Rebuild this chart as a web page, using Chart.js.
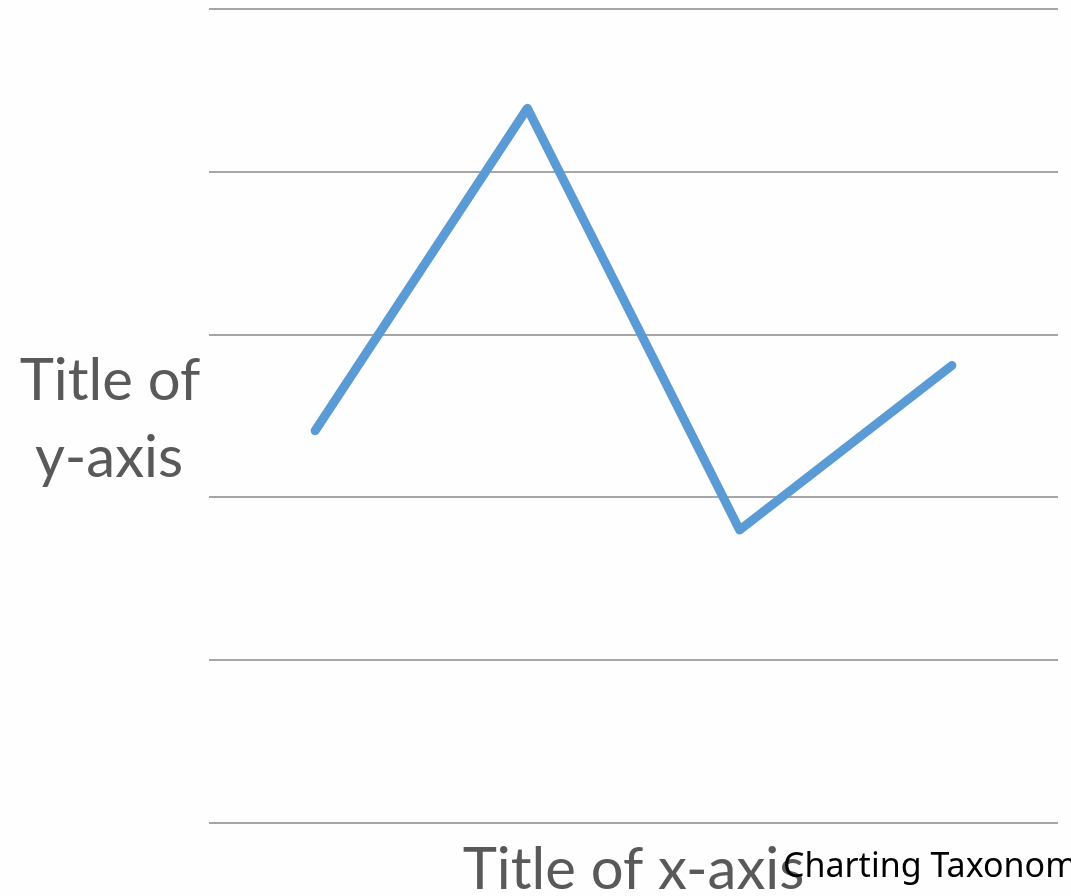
<!DOCTYPE html>
<html>
<head>
<meta charset="utf-8">
<script src="https://cdn.jsdelivr.net/npm/chart.js@4"></script>
<style>
  html, body { margin: 0; padding: 0; background: #fefefe; }
  #wrap { width: 1071px; height: 896px; position: relative; }
</style>
</head>
<body>
<div id="wrap"><canvas id="lineChart" width="1071" height="896"></canvas></div>
<script>
const categories = ['A', 'B', 'C', 'D'];
const seriesValues = [2.41, 4.39, 1.8, 2.81];
const yTicks = [0, 1, 2, 3, 4, 5];
const yTitleLines = ['Title of', 'y-axis'];
const xTitle = 'Title of x-axis';
const watermark = 'Charting Taxonom';

// titles are drawn horizontally, like the original
const titlePlugin = {
    id: 'axisTitles',
    afterDraw(chart) {
        const ctx = chart.ctx;
        const area = chart.chartArea;
        ctx.save();
        ctx.fillStyle = '#595959';
        ctx.font = '58px Lato';
        ctx.textAlign = 'center';
        ctx.textBaseline = 'alphabetic';
        const cy = (area.top + area.bottom) / 2;
        ctx.fillText(yTitleLines[0], 110, cy - 16);
        ctx.fillText(yTitleLines[1], 109, cy + 61);
        ctx.fillText(xTitle, (area.left + area.right) / 2, 889);

        ctx.fillStyle = '#000000';
        ctx.font = '34px "Noto Sans"';
        ctx.textAlign = 'left';
        ctx.fillText(watermark, 783, 877);
        ctx.restore();
    }
};

function renderChart() {
    const ctx = document.getElementById('lineChart');

    new Chart(ctx, {
        type: 'line',
        data: {
            labels: categories,
            datasets: [{
                data: seriesValues,
                borderColor: '#5b9bd5',
                borderWidth: 9,
                borderCapStyle: 'round',
                borderJoinStyle: 'round',
                pointRadius: 0,
                tension: 0,
                fill: false
            }]
        },
        options: {
            responsive: false,
            animation: false,
            layout: {
                padding: { left: 209, right: 13, top: 9, bottom: 73 }
            },
            plugins: {
                legend: { display: false },
                tooltip: { enabled: false }
            },
            scales: {
                x: {
                    display: false,
                    offset: true
                },
                y: {
                    min: yTicks[0],
                    max: yTicks[yTicks.length - 1],
                    afterBuildTicks: axis => {
                        axis.ticks = yTicks.map(v => ({ value: v }));
                    },
                    ticks: { display: false },
                    border: { display: false },
                    grid: {
                        color: '#a6a6a6',
                        lineWidth: 2,
                        drawTicks: false
                    }
                }
            }
        },
        plugins: [titlePlugin]
    });
}

renderChart();
</script>
</body>
</html>
